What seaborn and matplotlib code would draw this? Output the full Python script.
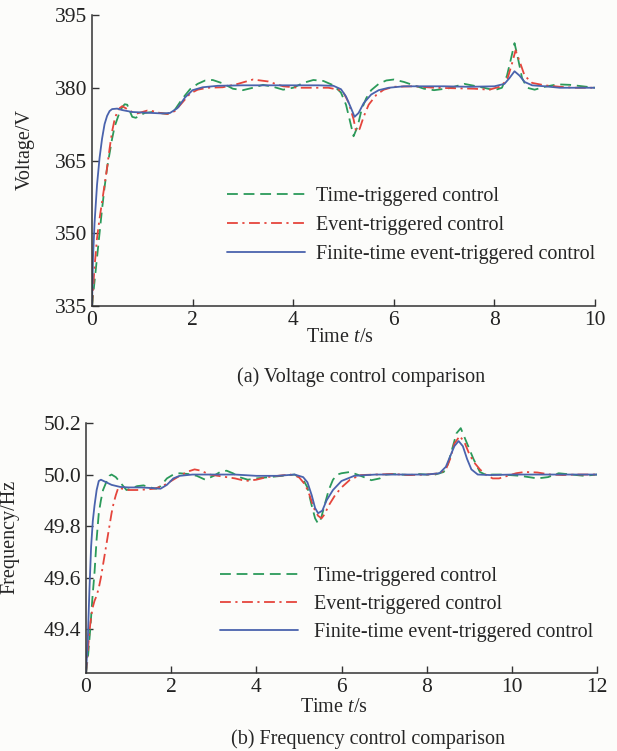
import numpy as np
import pandas as pd
import matplotlib
matplotlib.use("Agg")
import matplotlib.pyplot as plt
import seaborn as sns

# ---------------- data: voltage panel ----------------
labels = ["Time-triggered control", "Event-triggered control",
          "Finite-time event-triggered control"]

v_time_tt = [0, 0.05, 0.1, 0.15, 0.2, 0.25, 0.3, 0.35, 0.4, 0.45, 0.5, 0.55, 0.6, 0.65, 0.7,
             0.75, 0.8, 0.87, 0.95, 1.05, 1.2, 1.35, 1.5, 1.65, 1.8, 1.95, 2.1, 2.25, 2.4, 2.6,
             2.8, 3.0, 3.2, 3.4, 3.6, 3.8, 4.0, 4.2, 4.4, 4.6, 4.8, 4.95, 5.05, 5.12, 5.2, 5.28,
             5.36, 5.45, 5.55, 5.7, 5.85, 6.0, 6.2, 6.4, 6.6, 6.8, 7.1, 7.4, 7.7, 8.0, 8.15, 8.25,
             8.33, 8.4, 8.47, 8.55, 8.65, 8.8, 9.0, 9.25, 9.5, 9.75, 10]
v_tt = [335, 340, 345, 350, 355, 359.5, 363.5, 366.5, 369.5, 372, 373.5, 375, 376, 376.6, 376.5,
        375.2, 374.0, 373.8, 374.3, 374.8, 375.0, 374.8, 374.6, 375.5, 377.8, 379.7, 380.8, 381.5,
        381.6, 380.9, 379.8, 379.5, 380.0, 380.6, 380.2, 379.6, 380.0, 381.0, 381.6, 381.4, 380.5,
        379.0, 376.5, 373.5, 370.0, 372.0, 375.5, 377.8, 379.5, 380.8, 381.5, 381.7, 381.2, 380.5,
        379.8, 379.5, 379.9, 380.8, 380.2, 379.5, 380.0, 382.5, 386.0, 389.2, 386.0, 382.0, 380.0,
        379.6, 380.2, 380.7, 380.6, 380.3, 380.0]

v_time_et = [0, 0.05, 0.1, 0.15, 0.2, 0.25, 0.3, 0.35, 0.4, 0.45, 0.5, 0.55, 0.6, 0.7, 0.8, 0.9,
             1.0, 1.1, 1.2, 1.35, 1.5, 1.65, 1.8, 1.95, 2.1, 2.3, 2.6, 2.9, 3.2, 3.5, 3.8, 4.1, 4.4,
             4.7, 4.9, 5.0, 5.1, 5.2, 5.25, 5.32, 5.4, 5.5, 5.65, 5.8, 6.0, 6.4, 6.8, 7.2, 7.6, 7.9,
             8.1, 8.25, 8.35, 8.42, 8.5, 8.6, 8.75, 9.0, 9.3, 9.6, 10]
v_et = [335, 343, 349, 353, 356.5, 360, 363.5, 367.5, 371, 373.5, 375, 375.8, 376.2, 375.6, 375.0,
        374.7, 375.0, 375.3, 375.2, 374.8, 374.6, 375.2, 377.0, 378.8, 379.6, 380.0, 380.1, 380.8,
        381.7, 381.3, 380.3, 380.0, 380.0, 380.0, 379.6, 379.0, 377.0, 373.5, 371.0, 371.5, 374.0,
        376.5, 378.5, 379.6, 380.2, 380.3, 380.0, 379.9, 379.8, 379.6, 380.2, 381.5, 385.0, 387.7,
        385.5, 382.5, 381.0, 380.5, 380.2, 380.0, 380.0]

v_time_ft = [0, 0.02, 0.05, 0.1, 0.15, 0.2, 0.25, 0.3, 0.35, 0.4, 0.5, 0.6, 0.8, 1.0, 1.2, 1.4,
             1.55, 1.7, 1.85, 2.0, 2.2, 2.5, 3.0, 3.5, 4.0, 4.5, 4.8, 4.95, 5.05, 5.15, 5.22, 5.3,
             5.4, 5.55, 5.7, 5.9, 6.2, 6.6, 7.0, 7.5, 8.0, 8.2, 8.3, 8.4, 8.5, 8.6, 8.75, 9.0, 9.3,
             9.6, 10]
v_ft = [335, 345, 352, 360, 365.5, 369.5, 372.5, 374.2, 375.2, 375.6, 375.7, 375.4, 375.0, 374.9,
        374.8, 374.7, 374.8, 375.8, 378.0, 379.5, 380.1, 380.4, 380.5, 380.5, 380.5, 380.5, 380.4,
        379.7, 378.2, 375.8, 374.0, 374.8, 376.8, 378.6, 379.5, 380.0, 380.3, 380.3, 380.3, 380.2,
        380.3, 380.8, 382.0, 383.4, 382.5, 381.2, 380.5, 380.3, 380.0, 380.0, 380.0]

# ---------------- data: frequency panel ----------------
f_time_tt = [0, 0.05, 0.1, 0.15, 0.2, 0.25, 0.3, 0.35, 0.4, 0.45, 0.5, 0.55, 0.6, 0.7, 0.8, 0.9,
             0.95, 1.05, 1.2, 1.35, 1.5, 1.65, 1.75, 1.9, 2.05, 2.2, 2.4, 2.6, 2.8, 3.0, 3.15, 3.3,
             3.45, 3.6, 3.8, 4.0, 4.3, 4.6, 4.9, 5.1, 5.2, 5.3, 5.38, 5.45, 5.52, 5.6, 5.7, 5.8,
             5.9, 6.0, 6.2, 6.45, 6.7, 6.9, 7.05, 7.2, 7.4, 7.6, 7.8, 8.0, 8.2, 8.4, 8.5, 8.6, 8.7,
             8.8, 8.9, 9.0, 9.1, 9.25, 9.4, 9.55, 9.75, 9.95, 10.2, 10.4, 10.6, 10.85, 11.1, 11.4,
             11.7, 12]
f_tt = [49.23, 49.30, 49.40, 49.52, 49.62, 49.75, 49.85, 49.90, 49.94, 49.96, 49.98, 49.995, 50.0,
        49.99, 49.97, 49.95, 49.94, 49.945, 49.955, 49.958, 49.95, 49.945, 49.955, 49.985, 50.0,
        50.005, 50.002, 49.995, 49.98, 49.995, 50.01, 50.015, 50.005, 49.99, 49.98, 49.985, 49.99,
        49.995, 50.0, 49.98, 49.95, 49.88, 49.83, 49.81, 49.83, 49.88, 49.94, 49.98, 50.0, 50.005,
        50.01, 49.995, 49.978, 49.985, 50.0, 50.002, 50.0, 49.998, 50.002, 50.0, 50.0, 50.01, 50.04,
        50.1, 50.16, 50.18, 50.14, 50.1, 50.06, 50.01, 49.998, 50.0, 50.0, 49.998, 49.995, 49.99,
        49.985, 49.99, 50.005, 50.0, 49.995, 50.0]

f_time_et = [0, 0.05, 0.1, 0.15, 0.2, 0.25, 0.3, 0.35, 0.4, 0.45, 0.5, 0.55, 0.6, 0.65, 0.7, 0.76,
             0.85, 1.0, 1.2, 1.4, 1.6, 1.8, 2.0, 2.2, 2.4, 2.55, 2.7, 2.9, 3.1, 3.3, 3.5, 3.75, 4.0,
             4.25, 4.5, 4.8, 5.0, 5.15, 5.25, 5.35, 5.45, 5.53, 5.6, 5.7, 5.85, 6.0, 6.2, 6.45, 6.8,
             7.2, 7.6, 8.0, 8.3, 8.45, 8.55, 8.65, 8.78, 8.9, 9.0, 9.1, 9.25, 9.4, 9.55, 9.7, 9.9,
             10.1, 10.3, 10.6, 10.9, 11.2, 11.5, 12]
f_et = [49.23, 49.33, 49.42, 49.48, 49.51, 49.53, 49.56, 49.60, 49.65, 49.70, 49.75, 49.80, 49.85,
        49.89, 49.92, 49.95, 49.945, 49.94, 49.94, 49.942, 49.945, 49.955, 49.975, 49.995, 50.012,
        50.02, 50.015, 50.0, 49.995, 49.99, 49.985, 49.975, 49.98, 49.99, 49.995, 50.0, 49.99,
        49.96, 49.92, 49.87, 49.84, 49.83, 49.845, 49.88, 49.92, 49.95, 49.98, 49.998, 50.0, 50.002,
        49.998, 50.0, 50.005, 50.02, 50.06, 50.12, 50.15, 50.12, 50.08, 50.05, 50.02, 49.998,
        49.985, 49.985, 49.995, 50.005, 50.01, 50.008, 50.0, 49.998, 50.0, 50.0]

f_time_ft = [0, 0.04, 0.08, 0.12, 0.16, 0.2, 0.25, 0.3, 0.35, 0.45, 0.6, 0.8, 1.0, 1.3, 1.6, 1.75,
             1.9, 2.05, 2.2, 2.5, 3.0, 3.5, 4.0, 4.5, 4.9, 5.1, 5.2, 5.3, 5.38, 5.45, 5.55, 5.65,
             5.8, 6.0, 6.3, 6.8, 7.5, 8.0, 8.3, 8.45, 8.55, 8.65, 8.75, 8.85, 8.95, 9.05, 9.2, 9.5,
             10, 11, 12]
f_ft = [49.23, 49.35, 49.55, 49.72, 49.82, 49.88, 49.94, 49.975, 49.98, 49.972, 49.96, 49.952,
        49.95, 49.95, 49.947, 49.945, 49.96, 49.985, 49.995, 50.0, 50.0, 50.0, 49.995, 49.995, 50.0,
        49.99, 49.97, 49.92, 49.87, 49.85, 49.86, 49.9, 49.94, 49.975, 49.995, 50.0, 50.0, 50.0,
        50.005, 50.03, 50.07, 50.11, 50.13, 50.11, 50.06, 50.02, 50.0, 49.998, 50.0, 50.0, 50.0]

v_ticks = [335, 350, 365, 380, 395]
v_xticks = [0, 2, 4, 6, 8, 10]
f_ticks = [49.4, 49.6, 49.8, 50.0, 50.2]
f_xticks = [0, 2, 4, 6, 8, 10, 12]

# ---------------- style ----------------
sns.set_style("ticks")
plt.rcParams["font.family"] = ["Liberation Serif", "DejaVu Serif"]
plt.rcParams["mathtext.fontset"] = "custom"
plt.rcParams["mathtext.rm"] = "Liberation Serif"
plt.rcParams["mathtext.it"] = "Liberation Serif:italic"
plt.rcParams["font.size"] = 14.5

FS = 14.5
colors = ["#2b9a5a", "#e5453c", "#4a63ad"]
styles = [(0, (6, 3.2)), (0, (6, 2.5, 1.2, 2.5)), "-"]
lw = 1.3

W, H = 617, 751
fig = plt.figure(figsize=(W / 100, H / 100), dpi=100)
bg = "#fcfcfa"
fig.patch.set_facecolor(bg)


def px_axes(x0, x1, y0, y1):
    return fig.add_axes([x0 / W, 1 - y1 / H, (x1 - x0) / W, (y1 - y0) / H])


def style_axes(ax):
    ax.set_facecolor(bg)
    sns.despine(ax=ax)
    for s in ["left", "bottom"]:
        ax.spines[s].set_color("#333333")
        ax.spines[s].set_linewidth(1.1)
    ax.tick_params(direction="in", length=5, width=1.0, color="#333333",
                   labelsize=15.5, labelcolor="#222222")
    ax.tick_params(axis="x", pad=3.5)
    ax.tick_params(axis="y", pad=3.5)


def draw(ax, series):
    frames = []
    for lab, (tt, vv) in zip(labels, series):
        frames.append(pd.DataFrame({"t": tt, "v": vv, "s": lab}))
    df = pd.concat(frames, ignore_index=True)
    for lab, c, ls in zip(labels, colors, styles):
        sns.lineplot(data=df[df["s"] == lab], x="t", y="v", color=c, linestyle=ls,
                     linewidth=lw, ax=ax, label=lab, sort=False)


# ---- (a) voltage ----
ax1 = px_axes(92, 595, 15, 306)
draw(ax1, [(v_time_tt, v_tt), (v_time_et, v_et), (v_time_ft, v_ft)])
ax1.set_xlim(0, 10)
ax1.set_ylim(335, 395)
ax1.set_xticks(v_xticks)
ax1.set_yticks(v_ticks)
style_axes(ax1)
ax1.set_xlabel("")
ax1.set_ylabel("")
ax1.legend(loc="upper left", bbox_to_anchor=(0.268, 0.41), frameon=False, fontsize=FS,
           handlelength=3.9, handletextpad=0.55, labelspacing=0.5, borderpad=0,
           borderaxespad=0)
fig.text(25 / W, 1 - 150 / H, "Voltage/V", rotation=90, ha="center", va="center", fontsize=FS)
fig.text(340 / W, 1 - 337 / H, "Time $t$/s", ha="center", va="center", fontsize=FS)
fig.text(361 / W, 1 - 377 / H, "(a) Voltage control comparison", ha="center", va="center",
         fontsize=FS)

# ---- (b) frequency ----
ax2 = px_axes(86, 597, 423, 673)
draw(ax2, [(f_time_tt, f_tt), (f_time_et, f_et), (f_time_ft, f_ft)])
ax2.set_xlim(0, 12)
ax2.set_ylim(49.23, 50.2)
ax2.set_xticks(f_xticks)
ax2.set_yticks(f_ticks)
ax2.set_yticklabels([f"{v:.1f}" for v in f_ticks])
style_axes(ax2)
ax2.set_xlabel("")
ax2.set_ylabel("")
ax2.legend(loc="upper left", bbox_to_anchor=(0.262, 0.425), frameon=False, fontsize=FS,
           handlelength=3.9, handletextpad=0.75, labelspacing=0.45, borderpad=0,
           borderaxespad=0)
fig.text(10 / W, 1 - 537 / H, "Frequency/Hz", rotation=90, ha="center", va="center",
         fontsize=FS)
fig.text(334 / W, 1 - 707 / H, "Time $t$/s", ha="center", va="center", fontsize=FS)
fig.text(368 / W, 1 - 739 / H, "(b) Frequency control comparison", ha="center", va="center",
         fontsize=FS)

fig.savefig("out.png", dpi=100, facecolor=bg)
